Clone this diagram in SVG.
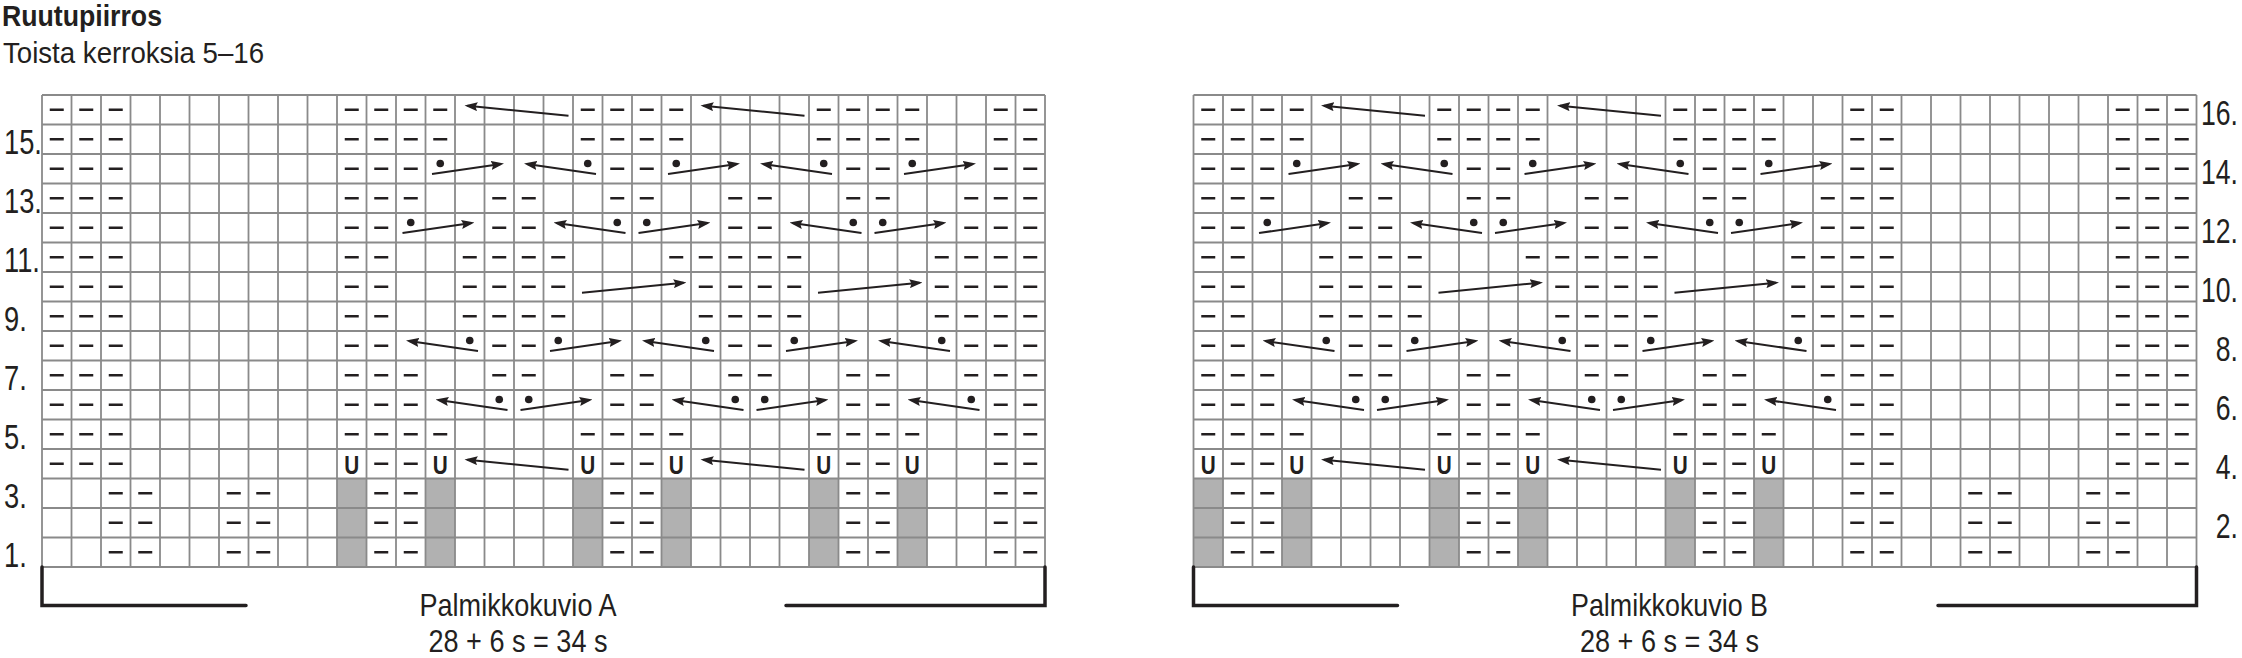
<svg xmlns="http://www.w3.org/2000/svg" xmlns:xlink="http://www.w3.org/1999/xlink" width="2242" height="658" viewBox="0 0 2242 658">
<style>
.g{fill:none;stroke:#8a8a8a;stroke-width:1.8}
.d{fill:none;stroke:#231f20;stroke-width:2.6;stroke-dasharray:14 15.5}
.a{fill:none;stroke:#231f20;stroke-width:2;marker-end:url(#ah)}
.dot{fill:#231f20}
.gr{fill:#b1b1b1}
.u{font-family:"Liberation Sans",Arial,sans-serif;font-weight:bold;font-size:25px;fill:#231f20;text-anchor:middle}
.t{font-family:"Liberation Sans",Arial,sans-serif;fill:#231f20}
.lab{font-family:"Liberation Sans",Arial,sans-serif;font-size:35px;fill:#231f20}
.re{text-anchor:end}
.br{fill:none;stroke:#231f20;stroke-width:3.5;stroke-linecap:round;stroke-linejoin:miter}
</style>
<defs>
<marker id="ah" markerUnits="userSpaceOnUse" markerWidth="13" markerHeight="9" viewBox="0 0 13 9" refX="10" refY="4.5" orient="auto">
<path d="M0 0L13 4.5L0 9L2 4.5z" fill="#231f20"/>
</marker>
<path id="grid" class="g" d="M0 0v472m29.5-472v472m29.5-472v472m29.5-472v472m29.5-472v472m29.5-472v472m29.5-472v472m29.5-472v472m29.5-472v472m29.5-472v472m29.5-472v472m29.5-472v472m29.5-472v472m29.5-472v472m29.5-472v472m29.5-472v472m29.5-472v472m29.5-472v472m29.5-472v472m29.5-472v472m29.5-472v472m29.5-472v472m29.5-472v472m29.5-472v472m29.5-472v472m29.5-472v472m29.5-472v472m29.5-472v472m29.5-472v472m29.5-472v472m29.5-472v472m29.5-472v472m29.5-472v472m29.5-472v472m29.5-472v472M0 0h1003m-1003 29.5h1003m-1003 29.5h1003m-1003 29.5h1003m-1003 29.5h1003m-1003 29.5h1003m-1003 29.5h1003m-1003 29.5h1003m-1003 29.5h1003m-1003 29.5h1003m-1003 29.5h1003m-1003 29.5h1003m-1003 29.5h1003m-1003 29.5h1003m-1003 29.5h1003m-1003 29.5h1003m-1003 29.5h1003"/>
<g id="cab">
<path class="d" d="M7.75 14.75H110.25M243.75 14.75H346.25M479.75 14.75H582.25M656.75 14.75H700.25
M7.75 44.25H110.25M243.75 44.25H346.25M479.75 44.25H582.25M656.75 44.25H700.25
M7.75 73.75H80.75M273.25 73.75H316.75M509.25 73.75H552.75M656.75 73.75H700.25
M7.75 103.25H80.75M155.25 103.25H198.75M273.25 103.25H316.75M391.25 103.25H434.75M509.25 103.25H552.75M627.25 103.25H700.25
M7.75 132.75H51.25M155.25 132.75H198.75M391.25 132.75H434.75M627.25 132.75H700.25
M7.75 162.25H51.25M125.75 162.25H228.25M332.25 162.25H464.25M597.75 162.25H700.25
M7.75 191.75H51.25M125.75 191.75H228.25M361.75 191.75H464.25M597.75 191.75H700.25
M7.75 221.25H51.25M125.75 221.25H228.25M361.75 221.25H464.25M597.75 221.25H700.25
M7.75 250.75H51.25M155.25 250.75H198.75M391.25 250.75H434.75M627.25 250.75H700.25
M7.75 280.25H80.75M155.25 280.25H198.75M273.25 280.25H316.75M391.25 280.25H434.75M509.25 280.25H552.75M627.25 280.25H700.25
M7.75 309.75H80.75M273.25 309.75H316.75M509.25 309.75H552.75M656.75 309.75H700.25
M7.75 339.25H110.25M243.75 339.25H346.25M479.75 339.25H582.25M656.75 339.25H700.25
M37.25 368.75H80.75M273.25 368.75H316.75M509.25 368.75H552.75M656.75 368.75H700.25
M37.25 398.25H80.75M273.25 398.25H316.75M509.25 398.25H552.75M656.75 398.25H700.25
M37.25 427.75H80.75M273.25 427.75H316.75M509.25 427.75H552.75M656.75 427.75H700.25
M37.25 457.25H80.75M273.25 457.25H316.75M509.25 457.25H552.75M656.75 457.25H700.25"/>
<g class="dot">
<circle cx="103.25" cy="68.5" r="3.8"/><circle cx="250.75" cy="68.5" r="3.8"/><circle cx="339.25" cy="68.5" r="3.8"/><circle cx="486.75" cy="68.5" r="3.8"/><circle cx="575.25" cy="68.5" r="3.8"/>
<circle cx="73.75" cy="127.5" r="3.8"/><circle cx="280.25" cy="127.5" r="3.8"/><circle cx="309.75" cy="127.5" r="3.8"/><circle cx="516.25" cy="127.5" r="3.8"/><circle cx="545.75" cy="127.5" r="3.8"/>
<circle cx="132.75" cy="245.5" r="3.8"/><circle cx="221.25" cy="245.5" r="3.8"/><circle cx="368.75" cy="245.5" r="3.8"/><circle cx="457.25" cy="245.5" r="3.8"/><circle cx="604.75" cy="245.5" r="3.8"/>
<circle cx="162.25" cy="304.5" r="3.8"/><circle cx="191.75" cy="304.5" r="3.8"/><circle cx="398.25" cy="304.5" r="3.8"/><circle cx="427.75" cy="304.5" r="3.8"/><circle cx="634.25" cy="304.5" r="3.8"/>
</g>
<g class="arrows">
<line class="a" x1="231.5" y1="20.7" x2="130.5" y2="10.7"/><line class="a" x1="467.5" y1="20.7" x2="366.5" y2="10.7"/>
<line class="a" x1="95" y1="79" x2="164" y2="69"/><line class="a" x1="259" y1="79" x2="190" y2="69"/><line class="a" x1="331" y1="79" x2="400" y2="69"/><line class="a" x1="495" y1="79" x2="426" y2="69"/><line class="a" x1="567" y1="79" x2="636" y2="69"/>
<line class="a" x1="65.5" y1="138" x2="134.5" y2="128"/><line class="a" x1="288.5" y1="138" x2="219.5" y2="128"/><line class="a" x1="301.5" y1="138" x2="370.5" y2="128"/><line class="a" x1="524.5" y1="138" x2="455.5" y2="128"/><line class="a" x1="537.5" y1="138" x2="606.5" y2="128"/>
<line class="a" x1="245" y1="197.7" x2="346.5" y2="187.7"/><line class="a" x1="481" y1="197.7" x2="582.5" y2="187.7"/>
<line class="a" x1="141" y1="256" x2="72" y2="246"/><line class="a" x1="213" y1="256" x2="282" y2="246"/><line class="a" x1="377" y1="256" x2="308" y2="246"/><line class="a" x1="449" y1="256" x2="518" y2="246"/><line class="a" x1="613" y1="256" x2="544" y2="246"/>
<line class="a" x1="170.5" y1="315" x2="101.5" y2="305"/><line class="a" x1="183.5" y1="315" x2="252.5" y2="305"/><line class="a" x1="406.5" y1="315" x2="337.5" y2="305"/><line class="a" x1="419.5" y1="315" x2="488.5" y2="305"/><line class="a" x1="642.5" y1="315" x2="573.5" y2="305"/>
<line class="a" x1="231.5" y1="374.7" x2="130.5" y2="364.7"/><line class="a" x1="467.5" y1="374.7" x2="366.5" y2="364.7"/>
</g>
</g>
</defs>
<rect width="2242" height="658" fill="#ffffff"/>
<g id="header">
<text class="t" x="2" y="26" font-size="29" font-weight="bold" textLength="160" lengthAdjust="spacingAndGlyphs">Ruutupiirros</text>
<text class="t" x="3" y="63" font-size="30" textLength="261" lengthAdjust="spacingAndGlyphs">Toista kerroksia 5–16</text>
</g>
<g id="chartA" transform="translate(42 95)">
<g class="gr"><rect x="295" y="383.5" width="29.5" height="88.5"/><rect x="383.5" y="383.5" width="29.5" height="88.5"/><rect x="531" y="383.5" width="29.5" height="88.5"/><rect x="619.5" y="383.5" width="29.5" height="88.5"/><rect x="767" y="383.5" width="29.5" height="88.5"/><rect x="855.5" y="383.5" width="29.5" height="88.5"/></g>
<use href="#grid"/>
<path class="d" d="M7.75 14.75H80.75M7.75 44.25H80.75M7.75 73.75H80.75M7.75 103.25H80.75M7.75 132.75H80.75M7.75 162.25H80.75M7.75 191.75H80.75M7.75 221.25H80.75M7.75 250.75H80.75M7.75 280.25H80.75M7.75 309.75H80.75M7.75 339.25H80.75M7.75 368.75H80.75M66.75 398.25H110.25M184.75 398.25H228.25M66.75 427.75H110.25M184.75 427.75H228.25M66.75 457.25H110.25M184.75 457.25H228.25"/>
<use href="#cab" x="295"/>
<g class="u"><text x="309.75" y="378.5" textLength="15" lengthAdjust="spacingAndGlyphs">U</text><text x="398.25" y="378.5" textLength="15" lengthAdjust="spacingAndGlyphs">U</text><text x="545.75" y="378.5" textLength="15" lengthAdjust="spacingAndGlyphs">U</text><text x="634.25" y="378.5" textLength="15" lengthAdjust="spacingAndGlyphs">U</text><text x="781.75" y="378.5" textLength="15" lengthAdjust="spacingAndGlyphs">U</text><text x="870.25" y="378.5" textLength="15" lengthAdjust="spacingAndGlyphs">U</text></g>
</g>
<g id="chartB" transform="translate(1193.5 95)">
<g class="gr"><rect x="0" y="383.5" width="29.5" height="88.5"/><rect x="88.5" y="383.5" width="29.5" height="88.5"/><rect x="236" y="383.5" width="29.5" height="88.5"/><rect x="324.5" y="383.5" width="29.5" height="88.5"/><rect x="472" y="383.5" width="29.5" height="88.5"/><rect x="560.5" y="383.5" width="29.5" height="88.5"/></g>
<use href="#grid"/>
<path class="d" d="M922.25 14.75H995.25M922.25 44.25H995.25M922.25 73.75H995.25M922.25 103.25H995.25M922.25 132.75H995.25M922.25 162.25H995.25M922.25 191.75H995.25M922.25 221.25H995.25M922.25 250.75H995.25M922.25 280.25H995.25M922.25 309.75H995.25M922.25 339.25H995.25M922.25 368.75H995.25M774.75 398.25H818.25M892.75 398.25H936.25M774.75 427.75H818.25M892.75 427.75H936.25M774.75 457.25H818.25M892.75 457.25H936.25"/>
<use href="#cab" x="0"/>
<g class="u"><text x="14.75" y="378.5" textLength="15" lengthAdjust="spacingAndGlyphs">U</text><text x="103.25" y="378.5" textLength="15" lengthAdjust="spacingAndGlyphs">U</text><text x="250.75" y="378.5" textLength="15" lengthAdjust="spacingAndGlyphs">U</text><text x="339.25" y="378.5" textLength="15" lengthAdjust="spacingAndGlyphs">U</text><text x="486.75" y="378.5" textLength="15" lengthAdjust="spacingAndGlyphs">U</text><text x="575.25" y="378.5" textLength="15" lengthAdjust="spacingAndGlyphs">U</text></g>
</g>
<g id="rowLabelsLeft" class="lab">
<text transform="translate(4 154) scale(0.78 1)">15.</text>
<text transform="translate(4 213) scale(0.78 1)">13.</text>
<text transform="translate(4 272) scale(0.78 1)">11.</text>
<text transform="translate(4 331) scale(0.78 1)">9.</text>
<text transform="translate(4 390) scale(0.78 1)">7.</text>
<text transform="translate(4 449) scale(0.78 1)">5.</text>
<text transform="translate(4 508) scale(0.78 1)">3.</text>
<text transform="translate(4 567) scale(0.78 1)">1.</text>
</g>
<g id="rowLabelsRight" class="lab re">
<text transform="translate(2238 124.5) scale(0.76 1)">16.</text>
<text transform="translate(2238 183.5) scale(0.76 1)">14.</text>
<text transform="translate(2238 242.5) scale(0.76 1)">12.</text>
<text transform="translate(2238 301.5) scale(0.76 1)">10.</text>
<text transform="translate(2238 360.5) scale(0.76 1)">8.</text>
<text transform="translate(2238 419.5) scale(0.76 1)">6.</text>
<text transform="translate(2238 478.5) scale(0.76 1)">4.</text>
<text transform="translate(2238 537.5) scale(0.76 1)">2.</text>
</g>
<g id="bracketA">
<path class="br" d="M246 605.5H42V567M786 605.5H1045V567"/>
<text class="t" x="518" y="616" font-size="32" text-anchor="middle" textLength="197" lengthAdjust="spacingAndGlyphs">Palmikkokuvio A</text>
<text class="t" x="518" y="652" font-size="32" text-anchor="middle" textLength="179" lengthAdjust="spacingAndGlyphs">28 + 6 s = 34 s</text>
</g>
<g id="bracketB">
<path class="br" d="M1397.5 605.5H1193.5V567M1938 605.5H2196.5V567"/>
<text class="t" x="1669.5" y="616" font-size="32" text-anchor="middle" textLength="197" lengthAdjust="spacingAndGlyphs">Palmikkokuvio B</text>
<text class="t" x="1669.5" y="652" font-size="32" text-anchor="middle" textLength="179" lengthAdjust="spacingAndGlyphs">28 + 6 s = 34 s</text>
</g>
</svg>
